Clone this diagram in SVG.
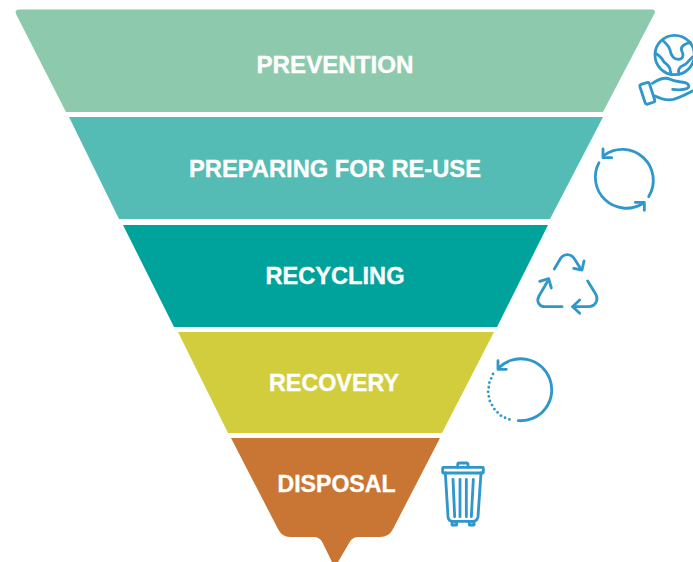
<svg xmlns="http://www.w3.org/2000/svg" width="693" height="562" viewBox="0 0 693 562">
<style>
.lbl{font-family:"Liberation Sans",Arial,sans-serif;font-weight:700;font-size:24px;fill:#fff;stroke:#fff;stroke-width:.35px;text-anchor:middle}
.ic{fill:none;stroke:#2f97cc;stroke-width:8.500;stroke-linecap:round;stroke-linejoin:round}
</style>
<rect width="693" height="562" fill="#fff"/>
<g id="prevention">
<path d="M19 9.500H652Q656 9.500 654.500 13.500L603 112H66L16 14Q14.500 9.500 19 9.500Z" fill="#8dcaad"/>
<text class="lbl" x="335" y="73" textLength="157" lengthAdjust="spacingAndGlyphs">PREVENTION</text>
</g>
<g id="preparing">
<path d="M69 117H603L550 219H119Z" fill="#54bcb5"/>
<text class="lbl" x="335" y="177" textLength="292" lengthAdjust="spacingAndGlyphs">PREPARING FOR RE-USE</text>
</g>
<g id="recycling">
<path d="M123 225H548L497 327H174Z" fill="#00a39c"/>
<text class="lbl" x="335" y="284" textLength="139" lengthAdjust="spacingAndGlyphs">RECYCLING</text>
</g>
<g id="recovery">
<path d="M178 332H494L442 433H228Z" fill="#d2cd3c"/>
<text class="lbl" x="334" y="391" textLength="130" lengthAdjust="spacingAndGlyphs">RECOVERY</text>
</g>
<g id="disposal">
<path d="M231 438H440L393 529Q389 537 380 537H358Q353 537 350 541.500L338 562H332L322 541.500Q319 537 314 537H290Q282 537 278 529Z" fill="#c97635"/>
<text class="lbl" x="336.500" y="492" textLength="118" lengthAdjust="spacingAndGlyphs">DISPOSAL</text>
</g>
<g id="icon-globe" transform="translate(590 0) scale(.33333)">
<circle class="ic" cx="254" cy="165" r="59"/>
<path class="ic" d="M219 122C228 132 236 135 240 150C243 165 250 178 265 178C280 178 282 165 275 152C270 140 285 130 302 128"/>
<path class="ic" d="M196 160C208 165 216 175 222 186C230 192 240 198 241 212C242 218 243 222 244 224"/>
<path class="ic" d="M309 170C298 178 292 192 280 196C268 200 262 212 268 222"/>
<path class="ic" d="M187 250C205 238 225 230 240 238C255 246 270 244 285 248C298 252 300 262 290 266C278 270 262 270 248 268"/>
<path class="ic" d="M195 288C215 298 232 302 250 298C272 292 290 282 309 272"/>
<rect class="ic" x="-15" y="-31" width="30" height="62" rx="6" transform="translate(172 280) rotate(-18)"/>
</g>
<g id="icon-reuse" transform="translate(530 140) scale(.33333)">
<path class="ic" d="M207 68A93 93 0 0 0 336 192"/>
<path class="ic" d="M222 46A93 93 0 0 1 356 170"/>
<path class="ic" d="M219 27L219 53L245 53"/>
<path class="ic" d="M316 187L343 187L343 211"/>
</g>
<g id="icon-recycle" transform="translate(530 140) scale(.33333)">
<path class="ic" d="M73 387L92 355C102 340 122 340 132 355L153 388"/>
<path class="ic" d="M131 385L156 390L162 363"/>
<path class="ic" d="M173 423L197 462C207 482 195 500 175 500H128"/>
<path class="ic" d="M149 480L128 500L149 520"/>
<path class="ic" d="M96 500H45C28 500 18 485 27 468L52 425"/>
<path class="ic" d="M29 424L56 416L64 444"/>
</g>
<g id="icon-recovery" transform="translate(430 350) scale(.33333)">
<path class="ic" d="M205 55A93 93 0 1 1 265 212"/>
<path class="ic" d="M204 32L204 58L229 58"/>
<path class="ic" d="M189 72L178 98L174 128L180 155L195 180L216 200L243 210" stroke-dasharray="0 14"/>
</g>
<g id="icon-trash" transform="translate(430 350) scale(.33333)">
<rect class="ic" x="38" y="352" width="122" height="17" rx="2"/>
<path class="ic" d="M83 352V344Q83 339 88 339H109Q114 339 114 344V352"/>
<path class="ic" d="M46 369L54 500Q55 514 68 514H128Q142 514 144 500L153 369"/>
<path class="ic" d="M69 388L74 500M90 388L90 500M109 388L109 500M130 388L124 500"/>
<rect class="ic" x="66" y="514" width="14" height="11"/>
<rect class="ic" x="118" y="514" width="14" height="11"/>
</g>
</svg>
